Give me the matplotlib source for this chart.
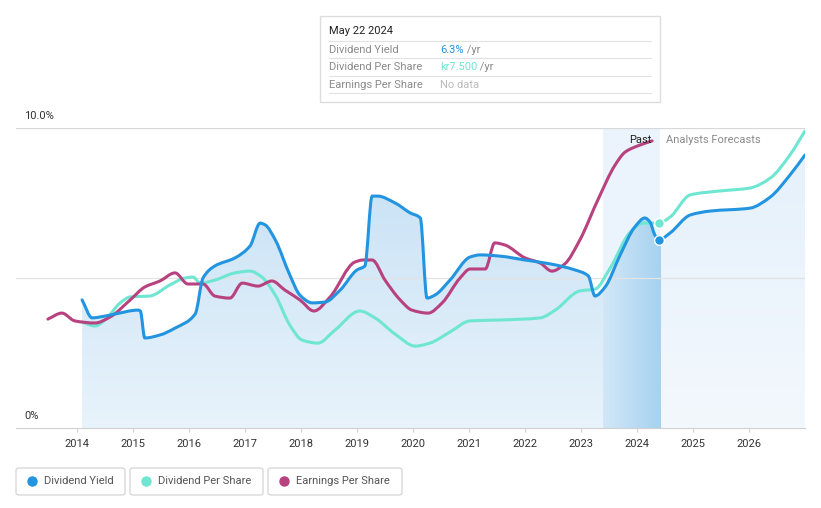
import numpy as np
import matplotlib
matplotlib.use("Agg")
import matplotlib.pyplot as plt
from matplotlib.patches import FancyBboxPatch, Rectangle, PathPatch
from matplotlib.path import Path
from matplotlib.colors import to_rgba

plt.rcParams['font.family'] = ['Roboto', 'DejaVu Sans']

# Dividend yield (%), past + forecast
dy_x = [2014.09, 2014.27, 2014.41, 2014.68, 2015.09, 2015.13, 2015.21, 2015.48, 2015.75,
        2016.11, 2016.25, 2016.46, 2016.82, 2017.09, 2017.27, 2017.36, 2017.54, 2017.80,
        2017.98, 2018.20, 2018.43, 2018.70, 2019.00, 2019.14, 2019.27, 2019.37, 2019.68,
        2019.95, 2020.13, 2020.25, 2020.39, 2020.66, 2021.02, 2021.20, 2021.55, 2022.00,
        2022.45, 2022.89, 2023.13, 2023.25, 2023.43, 2023.70, 2023.96, 2024.14, 2024.23,
        2024.32, 2024.39, 2024.59, 2024.95, 2025.30, 2026.02, 2026.38, 2026.73, 2027.00]
dy_y = [4.27, 3.67, 3.70, 3.80, 3.93, 3.90, 3.00, 3.10, 3.33,
        3.80, 5.00, 5.40, 5.67, 6.07, 6.83, 6.77, 6.27, 5.10,
        4.43, 4.17, 4.20, 4.60, 5.27, 5.40, 7.73, 7.73, 7.50,
        7.17, 7.00, 4.33, 4.43, 4.93, 5.70, 5.77, 5.73, 5.60,
        5.47, 5.27, 5.07, 4.40, 4.70, 5.77, 6.70, 7.00, 6.87,
        6.43, 6.27, 6.50, 7.10, 7.23, 7.33, 7.70, 8.43, 9.10]

# Dividend per share (scaled to chart)
dps_x = [2014.09, 2014.32, 2014.50, 2014.77, 2014.95, 2015.30, 2015.66, 2015.93, 2016.07,
         2016.20, 2016.46, 2016.82, 2017.09, 2017.30, 2017.54, 2017.80, 2018.02, 2018.30,
         2018.61, 2019.05, 2019.32, 2019.68, 2020.04, 2020.30, 2020.66, 2021.02, 2021.55,
         2022.27, 2022.54, 2022.98, 2023.25, 2023.52, 2023.88, 2024.11, 2024.39, 2024.59,
         2024.95, 2025.48, 2026.02, 2026.38, 2026.73, 2027.00]
dps_y = [3.53, 3.40, 3.60, 4.17, 4.37, 4.40, 4.77, 5.00, 5.03,
         4.83, 4.93, 5.17, 5.23, 5.03, 4.43, 3.43, 2.93, 2.83,
         3.27, 3.90, 3.67, 3.13, 2.73, 2.83, 3.20, 3.57, 3.60,
         3.67, 3.93, 4.57, 4.63, 5.33, 6.53, 6.83, 6.83, 7.03,
         7.77, 7.90, 8.00, 8.33, 9.10, 9.90]

# Earnings per share (scaled to chart)
eps_x = [2013.48, 2013.73, 2013.96, 2014.32, 2014.59, 2014.95, 2015.21, 2015.48, 2015.75,
         2015.98, 2016.25, 2016.46, 2016.73, 2016.95, 2017.23, 2017.48, 2017.71, 2017.98,
         2018.23, 2018.52, 2018.96, 2019.11, 2019.27, 2019.50, 2019.77, 2019.98, 2020.27,
         2020.52, 2020.84, 2021.02, 2021.29, 2021.46, 2021.64, 2022.00, 2022.27, 2022.48,
         2022.71, 2022.98, 2023.30, 2023.61, 2023.79, 2024.05, 2024.27]
eps_y = [3.63, 3.83, 3.57, 3.50, 3.70, 4.27, 4.70, 4.90, 5.17,
         4.80, 4.80, 4.40, 4.33, 4.83, 4.73, 4.90, 4.60, 4.27,
         3.90, 4.37, 5.53, 5.60, 5.60, 4.93, 4.27, 3.93, 3.83,
         4.17, 5.00, 5.30, 5.30, 6.17, 6.10, 5.67, 5.50, 5.23,
         5.47, 6.27, 7.60, 8.77, 9.20, 9.43, 9.57]

years = list(range(2014, 2027))
past_start, now = 2023.39, 2024.39
c_dy, c_dps, c_eps = '#2394e0', '#6ee6d2', '#b8427f'


def smooth_path(xs, ys, to_zero=False):
    # monotone cubic bezier through the points (drawing only, no new data)
    x = np.asarray(xs, float)
    y = np.asarray(ys, float)
    h = np.diff(x)
    d = np.diff(y) / h
    m = np.zeros_like(y)
    m[0], m[-1] = d[0], d[-1]
    for i in range(1, len(y) - 1):
        if d[i - 1] * d[i] <= 0:
            m[i] = 0
        else:
            w1, w2 = 2 * h[i] + h[i - 1], h[i] + 2 * h[i - 1]
            m[i] = (w1 + w2) / (w1 / d[i - 1] + w2 / d[i])
    verts = [(x[0], y[0])]
    codes = [Path.MOVETO]
    for i in range(len(x) - 1):
        verts += [(x[i] + h[i] / 3, y[i] + m[i] * h[i] / 3),
                  (x[i + 1] - h[i] / 3, y[i + 1] - m[i + 1] * h[i] / 3),
                  (x[i + 1], y[i + 1])]
        codes += [Path.CURVE4] * 3
    if to_zero:
        verts += [(x[-1], 0), (x[0], 0), (x[0], y[0])]
        codes += [Path.LINETO, Path.LINETO, Path.CLOSEPOLY]
    return Path(verts, codes)


W, H = 821, 508
fig = plt.figure(figsize=(W / 100, H / 100), dpi=100)
ax = fig.add_axes([16 / W, 1 - 428 / H, (805 - 16) / W, 300 / H])
ax.set_xlim(2012.91, 2027.0)
ax.set_ylim(0, 10)

# past band background
ax.axvspan(past_start, now + 0.02, color='#ebf4fc', zorder=0, lw=0)

# gradient fill under dividend yield
fill_path = smooth_path(dy_x, dy_y, to_zero=True)
clip = PathPatch(fill_path, transform=ax.transData, fc='none', ec='none')
ax.add_patch(clip)


def grad_img(c_top, c_bot, horizontal=False):
    t = np.linspace(0, 1, 256)
    a, b = np.array(to_rgba(c_top)), np.array(to_rgba(c_bot))
    arr = a[None, :] * (1 - t[:, None]) + b[None, :] * t[:, None]
    if horizontal:
        return arr[None, :, :]
    return arr[:, None, :]


segs = [
    (2014.0, past_start, grad_img('#c3dff5', '#e8f3fb')),
    (now + 0.02, 2027.0, grad_img('#e4f0fb', '#f3f8fd')),
    (past_start, now + 0.02, grad_img('#d2e7f7', '#a6d2f0', horizontal=True)),
]
for x0, x1, img in segs:
    im = ax.imshow(img, extent=[x0, x1, 0, 10], aspect='auto', origin='upper', zorder=1)
    im.set_clip_path(clip)

# grid
ax.axhline(5, color='#e3e3e3', lw=0.9, zorder=2)
ax.axhline(10, color='#d8d8d8', lw=0.9, zorder=2)

for xs, ys, col, z in [(dps_x, dps_y, c_dps, 4), (eps_x, eps_y, c_eps, 4), (dy_x, dy_y, c_dy, 5)]:
    ax.add_patch(PathPatch(smooth_path(xs, ys), fill=False, ec=col, lw=2.2, zorder=z,
                           capstyle='round', joinstyle='round'))
ax.plot([now], [6.27], 'o', color=c_dy, mec='white', mew=1, ms=7, zorder=6)
ax.plot([now], [6.83], 'o', color=c_dps, mec='white', mew=1, ms=7, zorder=6)

for s in ['top', 'right', 'left']:
    ax.spines[s].set_visible(False)
ax.spines['bottom'].set_color('#d0d0d0')
ax.set_yticks([])
ax.set_xticks(years)
ax.set_xticklabels([str(y) for y in years], fontsize=8, color='#333333')
ax.tick_params(axis='x', length=3, color='#d0d0d0', pad=5)

ax.text(now - 0.13, 9.6, 'Past', ha='right', va='center', fontsize=8, color='#222222', zorder=7)
ax.text(now + 0.13, 9.6, 'Analysts Forecasts', ha='left', va='center', fontsize=8,
        color='#8a8a8a', zorder=7)


def fx(px):
    return px / W


def fy(py):
    return 1 - py / H


fig.text(fx(24), fy(116), '10.0%', fontsize=8, color='#333333', va='center')
fig.text(fx(24), fy(416), '0%', fontsize=8, color='#333333', va='center')

# tooltip
fig.patches.append(Rectangle((fx(320), fy(102)), (660 - 320) / W, 86 / H, transform=fig.transFigure,
                             facecolor='white', edgecolor='#dddddd', lw=1, zorder=10))
fig.text(fx(329), fy(31), 'May 22 2024', fontsize=8, color='#222222', va='center', zorder=11)
for py in [41, 58, 76, 93]:
    fig.add_artist(plt.Line2D([fx(329), fx(651)], [fy(py), fy(py)], color='#e2e2e2', lw=0.8,
                              transform=fig.transFigure, zorder=11))
rows = [('Dividend Yield', '6.3%', c_dy, ' /yr'),
        ('Dividend Per Share', 'kr7.500', c_dps, ' /yr'),
        ('Earnings Per Share', 'No data', '#bbbbbb', '')]
for (lab, val, col, unit), py in zip(rows, [50, 67, 85]):
    fig.text(fx(329), fy(py), lab, fontsize=8, color='#8a8a8a', va='center', zorder=11)
    t = fig.text(fx(440), fy(py), val, fontsize=8, color=col, va='center', zorder=11)
    if unit:
        fig.canvas.draw()
        bb = t.get_window_extent()
        fig.text(bb.x1 / W, fy(py), unit, fontsize=8, color='#8a8a8a', va='center', zorder=11)

# legend boxes
legend = [('Dividend Yield', c_dy, 16, 125), ('Dividend Per Share', c_dps, 130, 263),
          ('Earnings Per Share', c_eps, 268, 402)]
for lab, col, x0, x1 in legend:
    fig.patches.append(FancyBboxPatch((fx(x0), fy(495)), (x1 - x0) / W, 27 / H,
                                      boxstyle='round,pad=0,rounding_size=0.004',
                                      transform=fig.transFigure, facecolor='white',
                                      edgecolor='#d5d5d5', lw=0.9))
    fig.add_artist(plt.Line2D([fx(x0 + 16)], [fy(481)], marker='o', color=col, ms=6.5,
                              transform=fig.transFigure))
    fig.text(fx(x0 + 28), fy(481), lab, fontsize=8, color='#555555', va='center')

fig.savefig('out.png', dpi=100)
